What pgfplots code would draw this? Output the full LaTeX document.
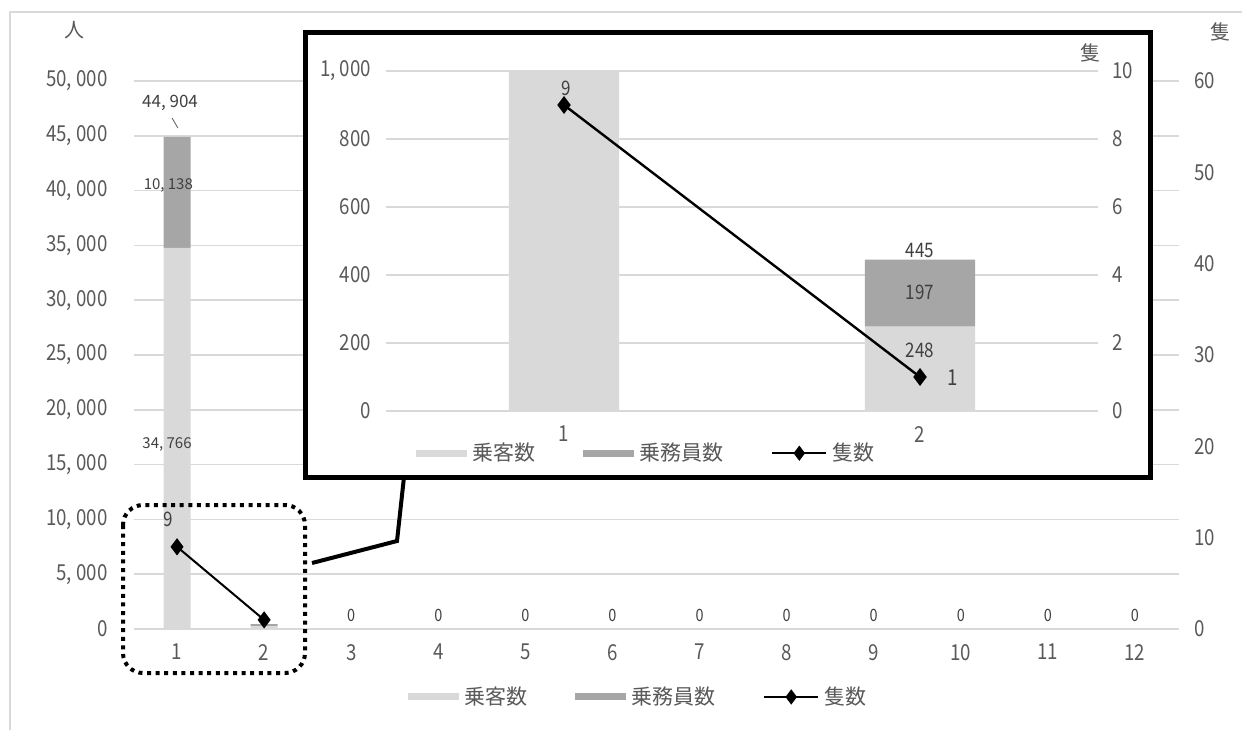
\documentclass[border=0pt]{standalone}
\usepackage{fontspec}
\setmainfont{Noto Sans CJK JP}[FakeStretch=0.85]
\newfontfamily\jp{Noto Sans CJK JP}
\usepackage{pgfplots}
\pgfplotsset{compat=1.18}
\definecolor{passenger}{HTML}{D9D9D9}
\definecolor{crew}{HTML}{A6A6A6}
\definecolor{gridgray}{HTML}{D9D9D9}
\definecolor{ticktext}{HTML}{595959}
\definecolor{labeltext}{HTML}{404040}
\pgfplotsset{
  /pgf/number format/assume math mode=true,
  common/.style={
    scale only axis, anchor=south west,
    major tick length=0pt,
    axis line style={draw=none},
    scaled y ticks=false,
    tick label style={font=\fontsize{11}{13}\selectfont, text=ticktext},
    xticklabel style={yshift=-4pt},
    grid style={gridgray, line width=0.8pt},
  },
  lgd/.style={
    legend columns=3,
    legend style={draw=none, fill=none, font=\jp\fontsize{10.5}{12}\selectfont,
      text=ticktext, anchor=center,
      /tikz/every odd column/.append style={column sep=0.5pt},
      /tikz/every even column/.append style={column sep=22pt}},
  },
  barlegend/.style={legend image code/.code={\fill[##1] (0pt,-1.75pt) rectangle (25.5pt,1.75pt);}},
  linelegend/.style={legend image code/.code={\draw[##1, sharp plot, mark repeat=2, mark phase=2]
    plot coordinates {(0pt,0pt) (13.5pt,0pt) (27pt,0pt)};}},
}
\begin{document}
\begin{tikzpicture}
\path[use as bounding box] (0,0) rectangle (621pt,-364.5pt);
\draw[gridgray, line width=0.75pt] (5pt,-6pt) rectangle (640pt,-380pt);

% main chart, left axis (people)
\begin{axis}[common, lgd,
  at={(66.75pt,-314.5pt)}, width=522.5pt, height=274pt,
  xmin=0.5, xmax=12.5, ymin=0, ymax=50000,
  xtick={1,...,12}, ytick={0,5000,...,50000},
  yticklabels={0,{5, 000},{10, 000},{15, 000},{20, 000},{25, 000},{30, 000},{35, 000},{40, 000},{45, 000},{50, 000}},
  yticklabel style={xshift=-9.5pt},
  ymajorgrids, ybar stacked, bar width=0.31,
  legend style={at={(0.484,-0.124)}},
  clip=false,
]
\addplot[fill=passenger, draw=none, barlegend]
  coordinates {(1,34766) (2,248) (3,0) (4,0) (5,0) (6,0) (7,0) (8,0) (9,0) (10,0) (11,0) (12,0)};
\addlegendentry{乗客数}
\addplot[fill=crew, draw=none, barlegend]
  coordinates {(1,10138) (2,197) (3,0) (4,0) (5,0) (6,0) (7,0) (8,0) (9,0) (10,0) (11,0) (12,0)};
\addlegendentry{乗務員数}
\addlegendimage{black, line width=1pt, mark=diamond*, mark size=3pt, linelegend}
\addlegendentry{隻数}
\node[font=\jp\fontsize{10}{12}\selectfont, text=ticktext] at (axis description cs:-0.056,1.093) {人};
\end{axis}

% main chart, right axis (ships); data labels drawn here, above the bars
\begin{axis}[common,
  at={(66.75pt,-314.5pt)}, width=522.5pt, height=274pt,
  xmin=0.5, xmax=12.5, ymin=0, ymax=60,
  ytick={0,10,...,60}, axis y line*=right, axis x line=none,
  yticklabel style={xshift=4.5pt},
  clip=false,
]
\addplot[black, line width=1pt, mark=diamond*, mark size=3.5pt] coordinates {(1,9) (2,1)};
\addplot[draw=none, mark=none, nodes near coords,
  nodes near coords style={font=\fontsize{8.5}{10}\selectfont, text=labeltext}]
  coordinates {(3,0) (4,0) (5,0) (6,0) (7,0) (8,0) (9,0) (10,0) (11,0) (12,0)};
\node[font=\fontsize{10}{12}\selectfont, text=labeltext] at (axis cs:0.9,12.04) {9};
\node[font=\jp\fontsize{8.5}{10}\selectfont, text=labeltext] at (axis cs:0.92,57.59) {44, 904};
\draw[ticktext, line width=0.4pt] (axis cs:0.943,55.95) -- (axis cs:1.01,54.85);
\node[font=\jp\fontsize{7.5}{9}\selectfont, text=labeltext] at (axis cs:0.9,48.61) {10, 138};
\node[font=\jp\fontsize{7.5}{9}\selectfont, text=labeltext] at (axis cs:0.885,20.15) {34, 766};
\node[font=\jp\fontsize{10}{12}\selectfont, text=ticktext] at (axis description cs:1.04,1.089) {隻};
\end{axis}

% highlight of categories 1 and 2
\draw[line width=2pt, dash pattern=on 2pt off 2.3pt, rounded corners=10pt]
  (61.5pt,-252.5pt) rectangle (152.5pt,-336.5pt);
\draw[line width=2pt] (156pt,-281.5pt) -- (198.5pt,-270.5pt) -- (202pt,-238.5pt);
\draw[line width=2.5pt, fill=white] (152.5pt,-16pt) rectangle (575pt,-238.5pt);

% inset, left axis
\begin{axis}[common, lgd,
  at={(193pt,-205.5pt)}, width=356pt, height=170pt,
  xmin=0.5, xmax=2.5, ymin=0, ymax=1000,
  xtick={1,2}, ytick={0,200,...,1000},
  yticklabels={0,200,400,600,800,{1, 000}},
  yticklabel style={xshift=-4pt},
  ymajorgrids, ybar stacked, bar width=0.31,
  legend style={at={(0.367,-0.124)}},
]
\addplot[fill=passenger, draw=none, barlegend] coordinates {(1,34766) (2,248)};
\addlegendentry{乗客数}
\addplot[fill=crew, draw=none, barlegend] coordinates {(1,10138) (2,197)};
\addlegendentry{乗務員数}
\addlegendimage{black, line width=1pt, mark=diamond*, mark size=3pt, linelegend}
\addlegendentry{隻数}
\node[font=\jp\fontsize{10}{12}\selectfont, text=ticktext] at (axis description cs:0.008,1.047) {人};
\end{axis}

% inset, right axis; data labels drawn here, above the bars
\begin{axis}[common,
  at={(193pt,-205.5pt)}, width=356pt, height=170pt,
  xmin=0.5, xmax=2.5, ymin=0, ymax=10,
  ytick={0,2,...,10}, axis y line*=right, axis x line=none,
  yticklabel style={xshift=3.5pt},
  clip=false,
]
\addplot[black, line width=1.2pt, mark=diamond*, mark size=3.5pt] coordinates {(1,9) (2,1)};
\node[font=\fontsize{10}{12}\selectfont, text=labeltext] at (axis cs:1.005,9.5) {9};
\node[font=\fontsize{11}{13}\selectfont, text=labeltext] at (axis cs:2.093,0.97) {1};
\node[font=\fontsize{10}{12}\selectfont, text=labeltext] at (axis cs:2,4.735) {445};
\node[font=\fontsize{10}{12}\selectfont, text=labeltext] at (axis cs:2,3.5) {197};
\node[font=\fontsize{10}{12}\selectfont, text=labeltext] at (axis cs:2,1.79) {248};
\node[font=\jp\fontsize{10}{12}\selectfont, text=ticktext] at (axis description cs:0.99,1.053) {隻};
\end{axis}
\end{tikzpicture}
\end{document}
